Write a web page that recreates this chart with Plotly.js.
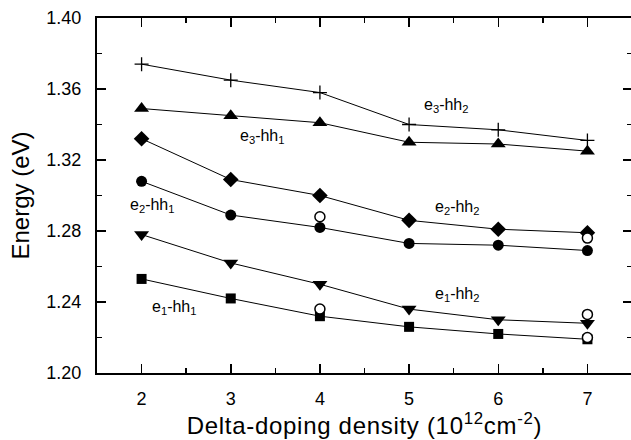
<!DOCTYPE html>
<html>
<head>
<meta charset="utf-8">
<script src="https://cdn.plot.ly/plotly-3.0.1.min.js"></script>
<style>
  html, body { margin: 0; padding: 0; overflow: hidden; background: #fff; }
  #chart { width: 634px; height: 440px; }
  .xtitle { letter-spacing: 0.7px; }
</style>
</head>
<body>
<div id="chart"></div>
<script>
// Delta-doping density (10^12 cm^-2)
const density = [2, 3, 4, 5, 6, 7];

// Transition energies (eV)
const e3hh2 = [1.374, 1.365, 1.358, 1.340, 1.337, 1.331];
const e3hh1 = [1.349, 1.345, 1.341, 1.330, 1.329, 1.325];
const e2hh2 = [1.332, 1.309, 1.300, 1.286, 1.281, 1.279];
const e2hh1 = [1.308, 1.289, 1.282, 1.273, 1.272, 1.269];
const e1hh2 = [1.278, 1.262, 1.250, 1.236, 1.230, 1.228];
const e1hh1 = [1.253, 1.242, 1.232, 1.226, 1.222, 1.219];

// Measured points (open circles)
const measX = [4, 7, 4, 7, 7];
const measY = [1.288, 1.276, 1.236, 1.233, 1.220];

// Curve labels
const labelText = ["e<sub>3</sub>-hh<sub>2</sub>", "e<sub>3</sub>-hh<sub>1</sub>",
                   "e<sub>2</sub>-hh<sub>2</sub>", "e<sub>2</sub>-hh<sub>1</sub>",
                   "e<sub>1</sub>-hh<sub>2</sub>", "e<sub>1</sub>-hh<sub>1</sub>"];
const labelX = [5.42, 3.36, 5.54, 2.12, 5.54, 2.37];
const labelY = [1.3506, 1.3331, 1.2931, 1.2943, 1.2441, 1.2368];

const yTickVals = [1.20, 1.24, 1.28, 1.32, 1.36, 1.40];
const yTickText = ["1.20", "1.24", "1.28", "1.32", "1.36", "1.40"];

const FONT = "Liberation Sans, Arial, sans-serif";

function series(y, symbol, size) {
  return {
    x: density, y: y, type: "scatter", mode: "lines+markers",
    line: { color: "#000", width: 1 },
    marker: { symbol: symbol, size: size, color: "#000",
              line: { color: "#000", width: symbol === "cross-thin" ? 1.3 : 0 } },
    showlegend: false, hoverinfo: "skip"
  };
}

const traces = [
  series(e3hh2, "cross-thin", 10),
  series(e3hh1, "triangle-up", 13),
  series(e2hh2, "diamond", 12),
  series(e2hh1, "circle", 11),
  series(e1hh2, "triangle-down", 13),
  series(e1hh1, "square", 10),
  {
    x: measX, y: measY, type: "scatter", mode: "markers",
    marker: { symbol: "circle", size: 10, color: "#fff", line: { color: "#000", width: 1.5 } },
    showlegend: false, hoverinfo: "skip"
  }
];

const annotations = labelText.map((t, i) => ({
  x: labelX[i], y: labelY[i], xref: "x", yref: "y", text: t, showarrow: false,
  xanchor: "center", yanchor: "middle",
  font: { family: FONT, size: 16, color: "#000" }
}));

const axisCommon = {
  showgrid: false, zeroline: false, showline: true, linecolor: "#000", linewidth: 2,
  mirror: "allticks", ticks: "inside", ticklen: 9, tickwidth: 1.5, tickcolor: "#000",
  tickfont: { family: FONT, size: 18, color: "#000" }
};

const layout = {
  width: 634, height: 440,
  margin: { l: 97, r: 2, t: 18, b: 67 },
  paper_bgcolor: "#fff", plot_bgcolor: "#fff",
  font: { family: FONT, color: "#000" },
  xaxis: Object.assign({}, axisCommon, {
    range: [1.5, 7.5], tickmode: "array", tickvals: density, ticktext: density.map(String),
    ticklabelstandoff: 8,
    minor: { ticks: "inside", dtick: 0.5, tick0: 1.5, ticklen: 5, tickwidth: 1.5, tickcolor: "#000" },
    title: { text: "Delta-doping density (10<sup>12</sup>cm<sup>-2</sup>)",
             font: { family: FONT, size: 24, color: "#000" },
             standoff: 8 }
  }),
  yaxis: Object.assign({}, axisCommon, {
    range: [1.20, 1.40], tickmode: "array", tickvals: yTickVals, ticktext: yTickText,
    ticklabelstandoff: 10,
    minor: { ticks: "inside", dtick: 0.02, tick0: 1.20, ticklen: 5, tickwidth: 1.5, tickcolor: "#000" },
    title: { text: "Energy (eV)",
             font: { family: FONT, size: 24, color: "#000" },
             standoff: 10 }
  }),
  annotations: annotations
};

Plotly.newPlot("chart", traces, layout, { staticPlot: true, displayModeBar: false });
</script>
</body>
</html>
